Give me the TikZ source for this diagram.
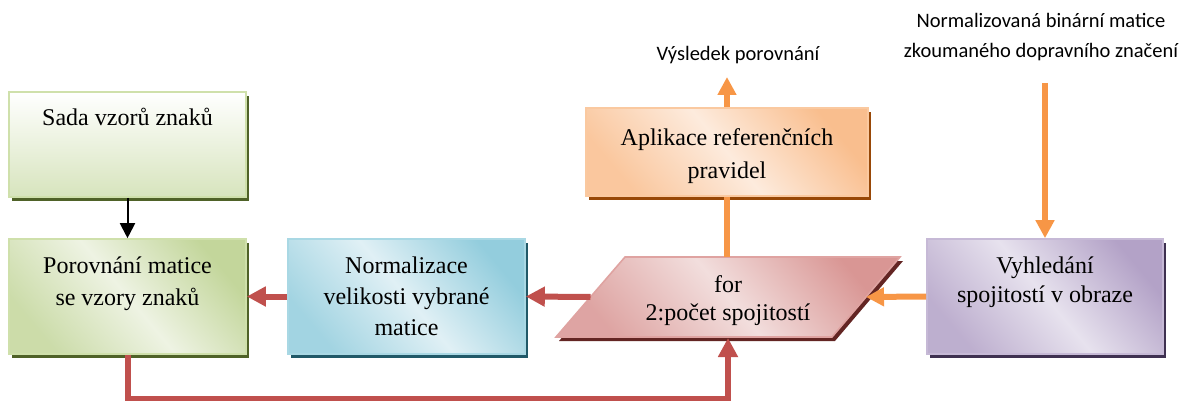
\documentclass[tikz,border=0pt]{standalone}
\usepackage{fontspec}
\setmainfont{Liberation Serif}
\newfontfamily\boxfont{Liberation Serif}
\newfontfamily\labfont{Carlito}
\usetikzlibrary{arrows.meta,shadows}
\definecolor{GreenD}{HTML}{C3D69B}
\definecolor{GreenM}{HTML}{D7E4BD}
\definecolor{GreenL}{HTML}{EEF3E3}
\definecolor{GreenB}{HTML}{CFE0AB}
\definecolor{GreenS}{HTML}{4F6228}
\definecolor{BlueD}{HTML}{93CDDD}
\definecolor{BlueL}{HTML}{E0F0F5}
\definecolor{BlueB}{HTML}{A9D8E4}
\definecolor{BlueS}{HTML}{215968}
\definecolor{OrangeD}{HTML}{F9BE8E}
\definecolor{OrangeL}{HTML}{FDEBDD}
\definecolor{OrangeB}{HTML}{FAC9A0}
\definecolor{OrangeS}{HTML}{984807}
\definecolor{RedD}{HTML}{D99694}
\definecolor{RedL}{HTML}{F2DEDD}
\definecolor{RedB}{HTML}{DFA3A1}
\definecolor{RedS}{HTML}{632523}
\definecolor{PurpleD}{HTML}{B3A2C7}
\definecolor{PurpleL}{HTML}{E7E2EE}
\definecolor{PurpleB}{HTML}{C6B9D6}
\definecolor{PurpleS}{HTML}{3F3151}
\definecolor{ArrRed}{HTML}{C0504D}
\definecolor{ArrOrange}{HTML}{F79646}
\tikzset{
  boxbase/.style={rectangle, inner sep=0pt, line width=1.6pt},
  diag/.style n args={3}{draw=#3, shading=axis, top color=#1, bottom color=#1!80!#2, middle color=#2, shading angle=-50},
  shad/.style={drop shadow={shadow xshift=3pt, shadow yshift=-4pt, fill=#1, opacity=1}},
  boxtext/.style={font=\boxfont\fontsize{24}{#1}\selectfont, align=center, inner sep=0pt, anchor=north},
  labtext/.style={font=\labfont\fontsize{20.5}{30}\selectfont, align=center, inner sep=0pt, anchor=north},
  redarrow/.style={draw=ArrRed, line width=6pt, -{Triangle[length=19pt,width=19pt]}},
  orangearrow/.style={draw=ArrOrange, line width=6pt, -{Triangle[length=18pt,width=18pt]}},
  orangeline/.style={draw=ArrOrange, line width=6pt},
  blackarrow/.style={draw=black, line width=2pt, -{Triangle[length=15pt,width=15pt]}}
}
\begin{document}
\begin{tikzpicture}[x=1pt,y=-1pt]
\useasboundingbox (0,0) rectangle (1189,401);

% boxes
\node[boxbase, shad=GreenS, draw=GreenB, shading=axis, top color=white, bottom color=GreenM,
      minimum width=237pt, minimum height=105pt] (sada) at (127.5,144.5) {};
\node[boxbase, shad=GreenS, diag={GreenD}{GreenL}{GreenB},
      minimum width=237pt, minimum height=115pt] (porov) at (127.5,296.5) {};
\node[boxbase, shad=BlueS, diag={BlueD}{BlueL}{BlueB},
      minimum width=237pt, minimum height=115pt] (norm) at (406.5,296.5) {};
\node[boxbase, shad=OrangeS, diag={OrangeD}{OrangeL}{OrangeB},
      minimum width=282pt, minimum height=88pt] (apl) at (727,152) {};
\node[boxbase, shad=PurpleS, diag={PurpleD}{PurpleL}{PurpleB},
      minimum width=236pt, minimum height=115pt] (vyh) at (1045,296.5) {};

% parallelogram
\coordinate (pbl) at (556,337);
\coordinate (ptl) at (625,257);
\coordinate (ptr) at (900,257);
\coordinate (pbr) at (832,337);
\path[line width=1.6pt, shad=RedS, diag={RedD}{RedL}{RedB}]
  (pbl) -- (ptl) -- (ptr) -- (pbr) -- cycle;
\coordinate (pl) at (590.5,297);
\coordinate (pr) at (866,297);
\coordinate (ptop) at (727,257);
\coordinate (pbot) at (728,338);

% texts
\node[boxtext=31] (sadat) at (127.5,103.3) {\strut Sada vzorů znaků};
\node[boxtext=32] (porovt) at (127.5,250.6) {\strut Porovnání matice\\\strut se vzory znaků};
\node[boxtext=31] (normt) at (406.5,251.3) {\strut Normalizace\\\strut velikosti vybrané\\\strut matice};
\node[boxtext=33] (aplt) at (727,121.9) {\strut Aplikace referenčních\\\strut pravidel};
\node[boxtext=28] (parat) at (728,272.4) {\strut for\\\strut 2:počet spojitostí};
\node[boxtext=29] (vyht) at (1045,252.7) {\strut Vyhledání\\\strut spojitostí v obraze};

\node[labtext] (res) at (738,39) {\strut Výsledek porovnání};
\node[labtext] (inp) at (1041,6) {\strut Normalizovaná binární matice\\\strut zkoumaného dopravního značení};

% connectors
\coordinate (intop) at (1045,83);
\coordinate (outtop) at (727,77);
\draw[blackarrow] (sada.south) -- (porov.north);
\draw[redarrow] (norm.west) -- (porov.east);
\draw[redarrow] (pl) -- (norm.east);
\draw[orangearrow] (vyh.west) -- (pr);
\draw[orangearrow] (intop) -- (vyh.north);
\draw[orangeline] (ptop) -- (apl.south);
\draw[orangearrow] (apl.north) -- (outtop);
\draw[redarrow] (porov.south) -- ++(0,44) -| (pbot);
\end{tikzpicture}
\end{document}
